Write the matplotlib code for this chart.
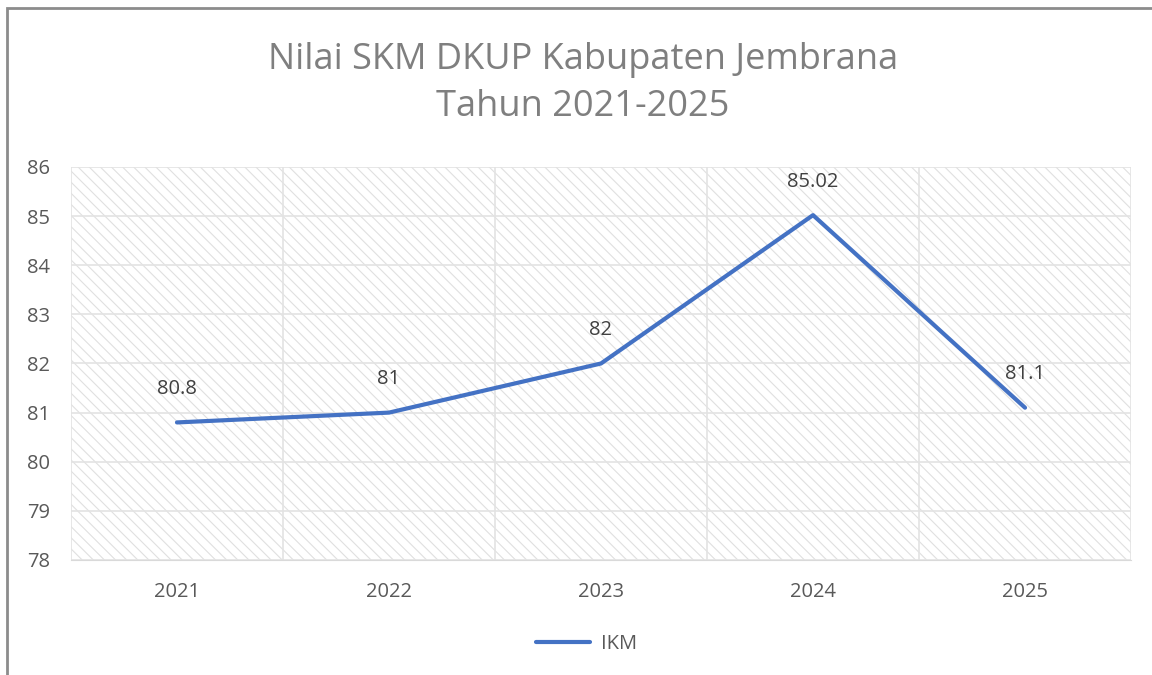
import matplotlib
matplotlib.use("Agg")
import matplotlib.pyplot as plt
from matplotlib.patches import Rectangle

plt.rcParams['font.family'] = ['Open Sans', 'DejaVu Sans']
plt.rcParams['hatch.color'] = '#e0e0e0'
plt.rcParams['hatch.linewidth'] = 0.8

# data
years = ['2021', '2022', '2023', '2024', '2025']
ikm = [80.8, 81, 82, 85.02, 81.1]
value_labels = ['80.8', '81', '82', '85.02', '81.1']

fig = plt.figure(figsize=(11.52, 6.75), dpi=100)
ax = fig.add_axes([0.0616, 0.1704, 0.9202, 0.5822])

# hatched plot area
ax.add_patch(Rectangle((0, 0), 1, 1, transform=ax.transAxes, facecolor='white',
                       edgecolor='#e0e0e0', hatch='\\\\\\', linewidth=0, zorder=0))

x = list(range(len(years)))
ax.plot(x, ikm, color='#4472C4', linewidth=3, solid_capstyle='round', label='IKM', zorder=3)
for xi, yi, lab in zip(x, ikm, value_labels):
    ax.annotate(lab, (xi, yi), xytext=(0, 24), textcoords='offset points',
                ha='center', va='center', fontsize=14.5, color='#404040', zorder=4)

ax.set_xlim(-0.5, len(years) - 0.5)
ax.set_ylim(78, 86)
ax.set_yticks(range(78, 87))
ax.set_xticks(x)
ax.set_xticklabels(years)
ax.set_xticks([i - 0.5 for i in range(len(years) + 1)], minor=True)
ax.grid(axis='y', which='major', color='#e3e3e3', linewidth=1.2, zorder=1)
ax.grid(axis='x', which='minor', color='#e3e3e3', linewidth=1.2, zorder=1)
ax.set_axisbelow(True)
ax.tick_params(axis='both', which='both', length=0, labelsize=14.5, colors='#595959')
ax.tick_params(axis='y', pad=15)
ax.tick_params(axis='x', pad=16)
for s in ax.spines.values():
    s.set_visible(False)
ax.spines['bottom'].set_visible(True)
ax.spines['bottom'].set_color('#d9d9d9')

fig.text(0.506, 0.876, 'Nilai SKM DKUP Kabupaten Jembrana\nTahun 2021-2025', ha='center',
         va='center', fontsize=26, color='#7f7f7f', linespacing=1.42)

fig.legend(loc='center', bbox_to_anchor=(0.509, 0.046), frameon=False, fontsize=14.5,
           labelcolor='#595959', handlelength=2.7, handletextpad=0.5)

# chart border (cropped on the right and bottom)
fig.patches.append(Rectangle((7 / 1152, -0.1), 1.2, 1 - 8 / 675 + 0.1, transform=fig.transFigure,
                             fill=False, edgecolor='#8c8c8c', linewidth=2))

fig.savefig('out.png', dpi=100)
